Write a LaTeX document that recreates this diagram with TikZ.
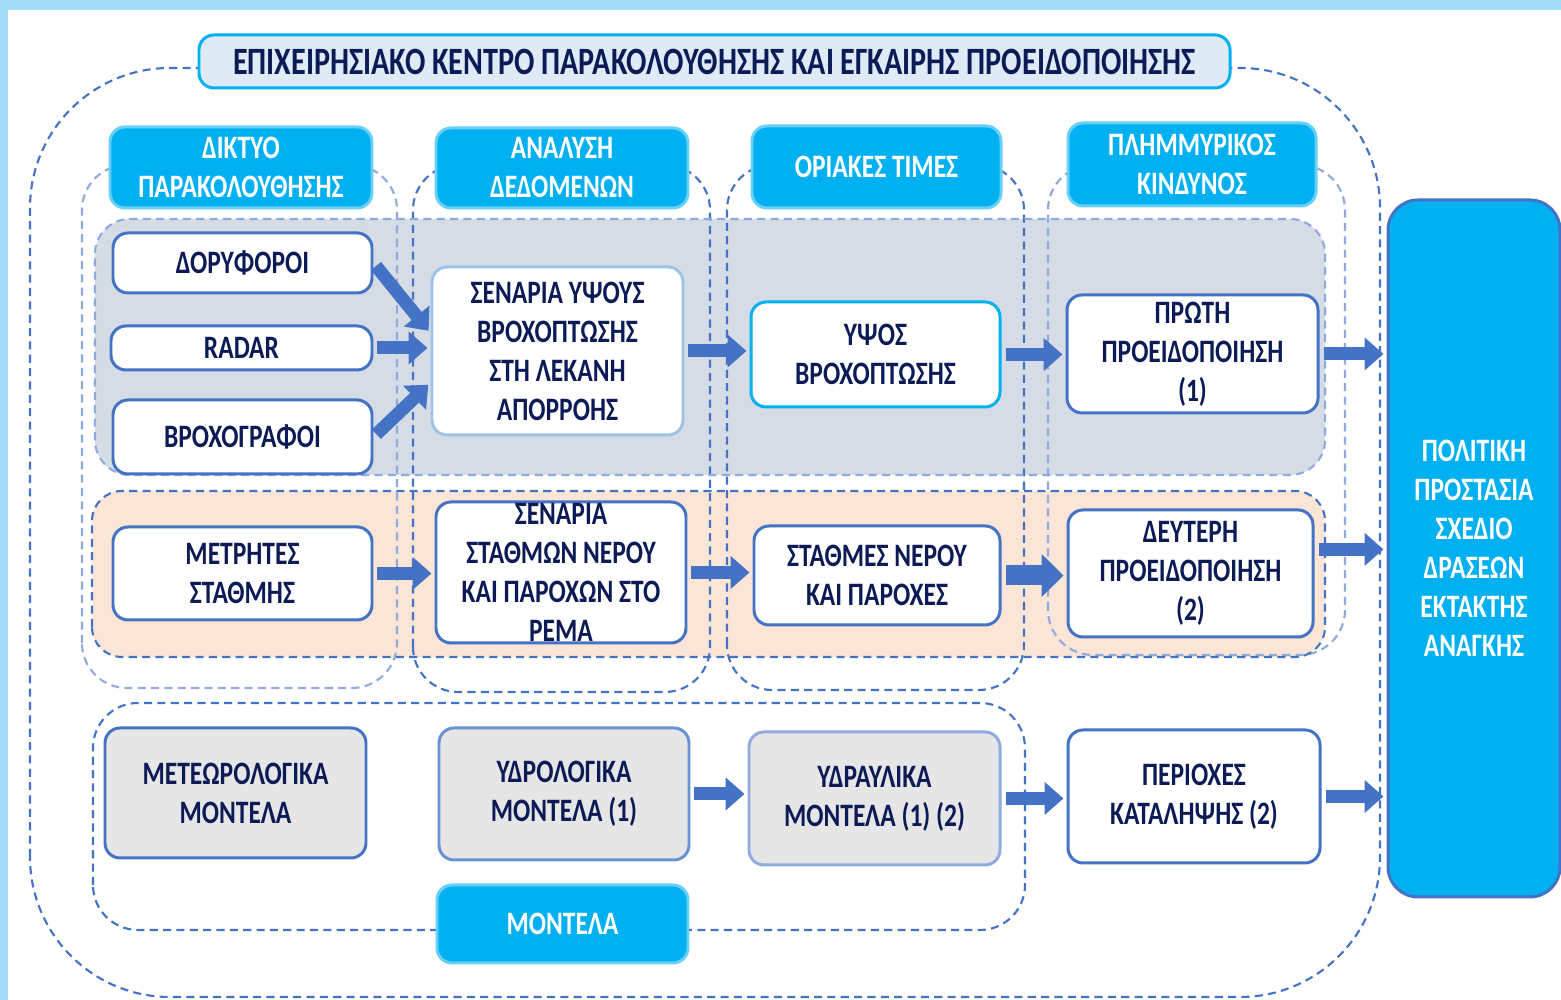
\documentclass[tikz,border=0pt]{standalone}
\usepackage{fontspec}
\setmainfont{Carlito}[FakeStretch=0.78]
\usetikzlibrary{arrows.meta}

\definecolor{navy}{HTML}{0C1B56}
\definecolor{skycyan}{HTML}{00B0F0}
\definecolor{boxblue}{HTML}{4472C4}
\definecolor{paleblue}{HTML}{9DC3E6}
\definecolor{dashlight}{HTML}{8FAADC}
\definecolor{rowgrey}{HTML}{D6DCE5}
\definecolor{rowpeach}{HTML}{FBE5D6}
\definecolor{modelgrey}{HTML}{E7E6E6}
\definecolor{titlefill}{HTML}{DEEBF7}
\definecolor{framebg}{HTML}{A3DEF8}

\newcommand{\diagfont}{\fontsize{9.3}{11.1}\selectfont\bfseries}

\tikzset{
  box/.style={draw=boxblue, line width=0.85pt, fill=white, rounded corners=0.15cm,
              inner sep=0pt, align=center, text=navy, font=\diagfont},
  modelbox/.style={box, fill=modelgrey},
  headbox/.style={draw=skycyan!60!white, line width=0.85pt, fill=skycyan, rounded corners=0.15cm,
                  inner sep=0pt, align=center, text=white, font=\diagfont},
  grpdash/.style={line width=0.6pt, dash pattern=on 2.3pt off 1.5pt},
  flowarrow/.style={line width=0.13cm, draw=boxblue, shorten <=0.04cm, shorten >=0.03cm,
                    -{Triangle[length=0.19cm,width=0.32cm]}},
  bigarrow/.style={flowarrow, line width=0.2cm, -{Triangle[length=0.22cm,width=0.42cm]}}
}

\begin{document}
\begin{tikzpicture}
  \useasboundingbox (0,0) rectangle (15.61,10);
  \fill[framebg] (0,0) rectangle (15.61,10);
  \fill[white] (0.08,0) rectangle (15.61,9.90);

  % outer group
  \draw[grpdash, draw=boxblue, rounded corners=1.4cm] (0.30,0.03) rectangle (13.80,9.32);

  % row bands
  \fill[rowgrey, rounded corners=0.35cm] (0.95,5.25) rectangle (13.25,7.81);
  \fill[rowpeach, rounded corners=0.3cm] (0.92,3.43) rectangle (13.25,5.09);

  % columns
  \draw[grpdash, draw=dashlight, rounded corners=0.45cm] (0.82,3.12) rectangle (3.97,8.35);
  \draw[grpdash, draw=boxblue, rounded corners=0.45cm] (4.13,3.08) rectangle (7.10,8.35);
  \draw[grpdash, draw=boxblue, rounded corners=0.45cm] (7.27,3.10) rectangle (10.24,8.35);
  \draw[grpdash, draw=dashlight, rounded corners=0.45cm] (10.48,3.45) rectangle (13.45,8.35);

  \draw[grpdash, draw=dashlight, rounded corners=0.35cm] (0.95,5.25) rectangle (13.25,7.81);
  \draw[grpdash, draw=boxblue, rounded corners=0.3cm] (0.92,3.43) rectangle (13.25,5.09);
  \draw[grpdash, draw=boxblue, rounded corners=0.45cm] (0.93,0.70) rectangle (10.25,2.97);

  % title and headers
  \node[box, fill=titlefill, draw=skycyan, font=\fontsize{11}{13}\selectfont\bfseries,
        minimum width=10.31cm, minimum height=0.53cm] (title) at (7.145,9.385)
        {ΕΠΙΧΕΙΡΗΣΙΑΚΟ ΚΕΝΤΡΟ ΠΑΡΑΚΟΛΟΥΘΗΣΗΣ ΚΑΙ ΕΓΚΑΙΡΗΣ ΠΡΟΕΙΔΟΠΟΙΗΣΗΣ};

  \node[headbox, minimum width=2.62cm, minimum height=0.81cm] (hnet) at (2.41,8.325) {ΔΙΚΤΥΟ\\ΠΑΡΑΚΟΛΟΥΘΗΣΗΣ};
  \node[headbox, minimum width=2.52cm, minimum height=0.80cm] (hdata) at (5.62,8.32) {ΑΝΑΛΥΣΗ\\ΔΕΔΟΜΕΝΩΝ};
  \node[headbox, minimum width=2.49cm, minimum height=0.82cm] (hlim) at (8.765,8.33) {ΟΡΙΑΚΕΣ ΤΙΜΕΣ};
  \node[headbox, minimum width=2.48cm, minimum height=0.83cm] (hrisk) at (11.92,8.355) {ΠΛΗΜΜΥΡΙΚΟΣ\\ΚΙΝΔΥΝΟΣ};
  \node[headbox, minimum width=2.51cm, minimum height=0.78cm] (hmod) at (5.625,0.76) {ΜΟΝΤΕΛΑ};

  % first row
  \node[box, minimum width=2.59cm, minimum height=0.60cm] (sat) at (2.425,7.37) {ΔΟΡΥΦΟΡΟΙ};
  \node[box, minimum width=2.61cm, minimum height=0.44cm] (radar) at (2.415,6.52) {RADAR};
  \node[box, minimum width=2.59cm, minimum height=0.74cm] (gauge) at (2.425,5.63) {ΒΡΟΧΟΓΡΑΦΟΙ};
  \node[box, draw=paleblue, minimum width=2.51cm, minimum height=1.68cm] (rainsc) at (5.575,6.49)
       {ΣΕΝΑΡΙΑ ΥΨΟΥΣ\\ΒΡΟΧΟΠΤΩΣΗΣ\\ΣΤΗ ΛΕΚΑΝΗ\\ΑΠΟΡΡΟΗΣ};
  \node[box, draw=skycyan, minimum width=2.49cm, minimum height=1.05cm] (rain) at (8.755,6.455) {ΥΨΟΣ\\ΒΡΟΧΟΠΤΩΣΗΣ};
  \node[box, minimum width=2.51cm, minimum height=1.18cm] (warn1) at (11.925,6.46) {ΠΡΩΤΗ\\ΠΡΟΕΙΔΟΠΟΙΗΣΗ\\(1)};

  % second row
  \node[box, minimum width=2.59cm, minimum height=0.93cm] (level) at (2.425,4.265) {ΜΕΤΡΗΤΕΣ\\ΣΤΑΘΜΗΣ};
  \node[box, minimum width=2.50cm, minimum height=1.41cm] (flowsc) at (5.61,4.275)
       {ΣΕΝΑΡΙΑ\\ΣΤΑΘΜΩΝ ΝΕΡΟΥ\\ΚΑΙ ΠΑΡΟΧΩΝ ΣΤΟ\\ΡΕΜΑ};
  \node[box, minimum width=2.46cm, minimum height=0.99cm] (flow) at (8.77,4.245) {ΣΤΑΘΜΕΣ ΝΕΡΟΥ\\ΚΑΙ ΠΑΡΟΧΕΣ};
  \node[box, minimum width=2.45cm, minimum height=1.27cm] (warn2) at (11.905,4.265) {ΔΕΥΤΕΡΗ\\ΠΡΟΕΙΔΟΠΟΙΗΣΗ\\(2)};

  % models
  \node[modelbox, minimum width=2.61cm, minimum height=1.30cm] (meteo) at (2.355,2.07) {ΜΕΤΕΩΡΟΛΟΓΙΚΑ\\ΜΟΝΤΕΛΑ};
  \node[modelbox, draw=boxblue!60!paleblue, minimum width=2.50cm, minimum height=1.32cm] (hydro) at (5.64,2.06) {ΥΔΡΟΛΟΓΙΚΑ\\ΜΟΝΤΕΛΑ (1)};
  \node[modelbox, draw=dashlight, minimum width=2.51cm, minimum height=1.33cm] (hydra) at (8.745,2.015) {ΥΔΡΑΥΛΙΚΑ\\ΜΟΝΤΕΛΑ (1) (2)};
  \node[box, minimum width=2.52cm, minimum height=1.33cm] (area) at (11.94,2.035) {ΠΕΡΙΟΧΕΣ\\ΚΑΤΑΛΗΨΗΣ (2)};

  \node[box, fill=skycyan, text=white, rounded corners=0.3cm, minimum width=1.72cm, minimum height=6.97cm] (civil) at (14.74,4.515)
       {ΠΟΛΙΤΙΚΗ\\ΠΡΟΣΤΑΣΙΑ\\ΣΧΕΔΙΟ\\ΔΡΑΣΕΩΝ\\ΕΚΤΑΚΤΗΣ\\ΑΝΑΓΚΗΣ};

  % arrows
  \draw[flowarrow] (sat.east) -- (rainsc.172);
  \draw[flowarrow] (radar.east) -- (radar.east -| rainsc.west);
  \draw[flowarrow] (gauge.east) -- (rainsc.194);
  \draw[flowarrow] (rainsc.east) -- (rainsc.east -| rain.west);
  \draw[flowarrow] (rain.east) -- (rain.east -| warn1.west);
  \draw[flowarrow] (warn1.east) -- (warn1.east -| civil.west);

  \draw[flowarrow] (level.east) -- (level.east -| flowsc.west);
  \draw[flowarrow] (flowsc.east) -- (flowsc.east -| flow.west);
  \draw[bigarrow] (flow.east) -- (flow.east -| warn2.west);
  \draw[flowarrow] (warn2.11.5) -- (warn2.11.5 -| civil.west);

  \draw[flowarrow] (hydro.east) -- (hydro.east -| hydra.west);
  \draw[flowarrow] (hydra.east) -- (hydra.east -| area.west);
  \draw[flowarrow] (area.east) -- (area.east -| civil.west);
\end{tikzpicture}
\end{document}
